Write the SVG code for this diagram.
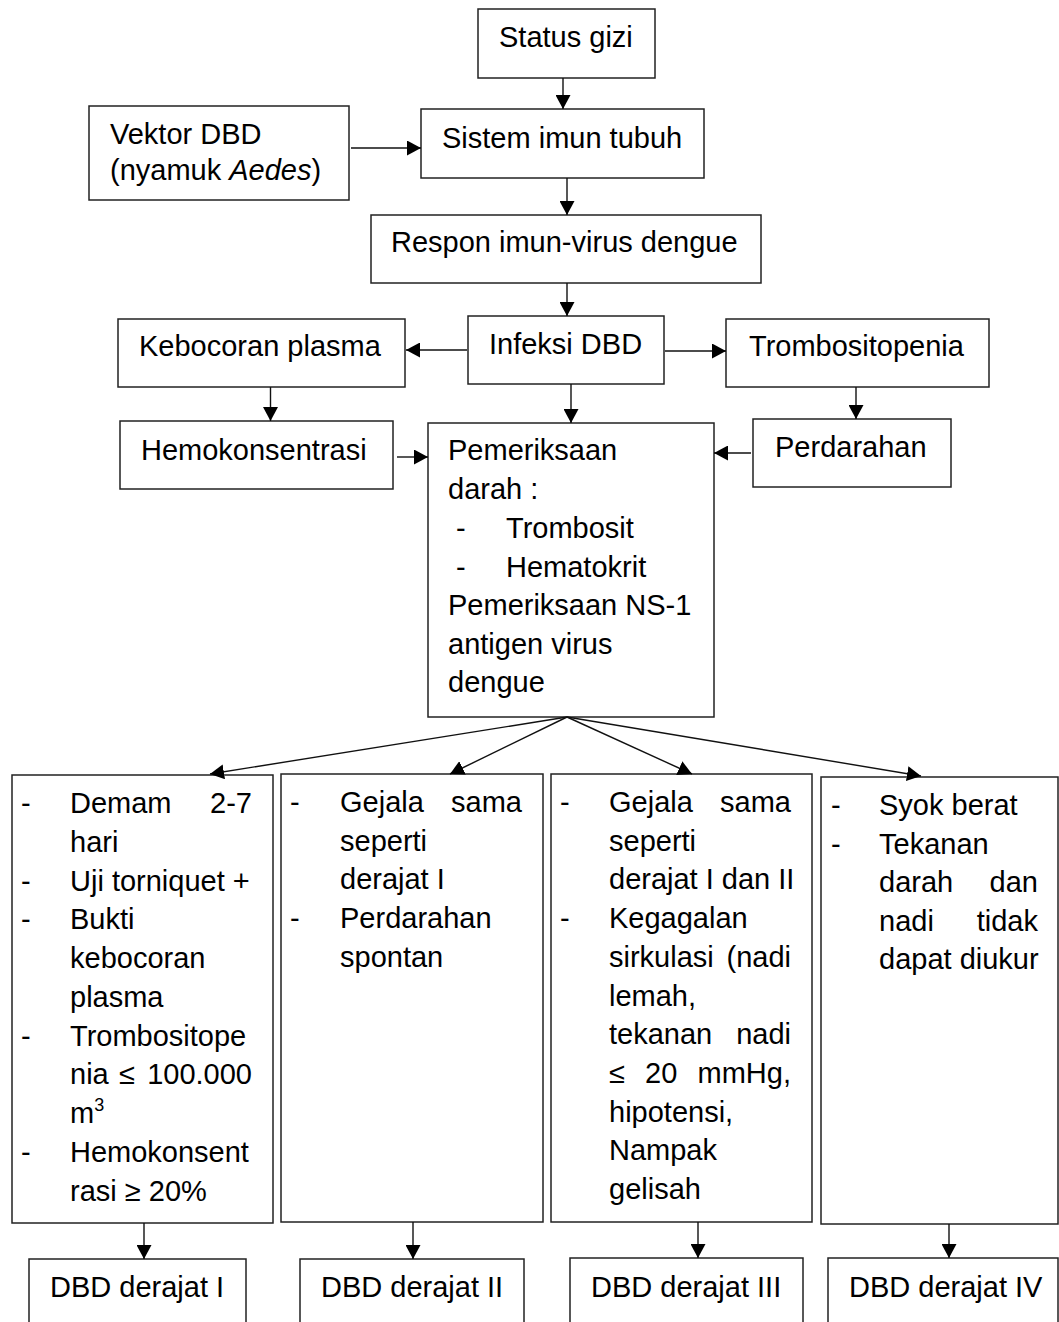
<svg xmlns="http://www.w3.org/2000/svg" width="1059" height="1322" viewBox="0 0 1059 1322">
<style>
.box{fill:#fff;stroke:#222;stroke-width:1.5}
text{font-family:"Liberation Sans",Arial,sans-serif;font-size:29px;fill:#000}
.e{text-anchor:end}
.con line{stroke:#111;stroke-width:1.4;marker-end:url(#ah)}
</style>
<defs>
<marker id="ah" viewBox="0 0 14 15" refX="14" refY="7.5" markerWidth="14" markerHeight="15" markerUnits="userSpaceOnUse" orient="auto">
<path d="M0,0 L14,7.5 L0,15 z" fill="#000"/>
</marker>
</defs>
<rect width="1059" height="1322" fill="#fff"/>

<g id="status-gizi"><rect class="box" x="478" y="9" width="177" height="69"/><text x="499" y="47">Status gizi</text></g>
<g id="vektor"><rect class="box" x="89" y="106" width="260" height="94"/><text x="110" y="144">Vektor DBD</text><text x="110" y="180">(nyamuk <tspan font-style="italic">Aedes</tspan>)</text></g>
<g id="sistem-imun"><rect class="box" x="421" y="109" width="283" height="69"/><text x="442" y="148">Sistem imun tubuh</text></g>
<g id="respon"><rect class="box" x="371" y="215" width="390" height="68"/><text x="391" y="252">Respon imun-virus dengue</text></g>
<g id="infeksi"><rect class="box" x="468" y="316" width="196" height="68"/><text x="489" y="354">Infeksi DBD</text></g>
<g id="kebocoran"><rect class="box" x="118" y="319" width="287" height="68"/><text x="139" y="356">Kebocoran plasma</text></g>
<g id="trombositopenia"><rect class="box" x="726" y="319" width="263" height="68"/><text x="749" y="356">Trombositopenia</text></g>
<g id="hemokonsentrasi"><rect class="box" x="120" y="421" width="273" height="68"/><text x="141" y="460">Hemokonsentrasi</text></g>
<g id="perdarahan"><rect class="box" x="753" y="419" width="198" height="68"/><text x="775" y="457">Perdarahan</text></g>
<g id="pemeriksaan"><rect class="box" x="428" y="423" width="286" height="294"/>
<text x="448" y="460">Pemeriksaan</text>
<text x="448" y="499">darah :</text>
<text x="456" y="538">-</text><text x="506" y="538">Trombosit</text>
<text x="456" y="577">-</text><text x="506" y="577">Hematokrit</text>
<text x="448" y="615">Pemeriksaan NS-1</text>
<text x="448" y="654">antigen virus</text>
<text x="448" y="692">dengue</text>
</g>

<g id="derajat1-kriteria"><rect class="box" x="12" y="775" width="261" height="448"/>
<text x="21" y="813">-</text><text x="70" y="813">Demam</text><text class="e" x="252" y="813">2-7</text>
<text x="70" y="852">hari</text>
<text x="21" y="891">-</text><text x="70" y="891">Uji torniquet +</text>
<text x="21" y="929">-</text><text x="70" y="929">Bukti</text>
<text x="70" y="968">kebocoran</text>
<text x="70" y="1007">plasma</text>
<text x="21" y="1046">-</text><text x="70" y="1046">Trombositope</text>
<text x="70" y="1084">nia</text><text x="119" y="1084">≤</text><text class="e" x="252" y="1084">100.000</text>
<text x="70" y="1123">m<tspan font-size="18" dy="-12">3</tspan></text>
<text x="21" y="1162">-</text><text x="70" y="1162">Hemokonsent</text>
<text x="70" y="1201">rasi ≥ 20%</text>
</g>
<g id="derajat2-kriteria"><rect class="box" x="281" y="774" width="262" height="448"/>
<text x="290" y="812">-</text><text x="340" y="812">Gejala</text><text class="e" x="522" y="812">sama</text>
<text x="340" y="851">seperti</text>
<text x="340" y="889">derajat I</text>
<text x="290" y="928">-</text><text x="340" y="928">Perdarahan</text>
<text x="340" y="967">spontan</text>
</g>
<g id="derajat3-kriteria"><rect class="box" x="551" y="774" width="261" height="448"/>
<text x="560" y="812">-</text><text x="609" y="812">Gejala</text><text class="e" x="791" y="812">sama</text>
<text x="609" y="851">seperti</text>
<text x="609" y="889">derajat I dan II</text>
<text x="560" y="928">-</text><text x="609" y="928">Kegagalan</text>
<text x="609" y="967">sirkulasi</text><text class="e" x="791" y="967">(nadi</text>
<text x="609" y="1006">lemah,</text>
<text x="609" y="1044">tekanan</text><text class="e" x="791" y="1044">nadi</text>
<text x="609" y="1083">≤</text><text x="645" y="1083">20</text><text class="e" x="791" y="1083">mmHg,</text>
<text x="609" y="1122">hipotensi,</text>
<text x="609" y="1160">Nampak</text>
<text x="609" y="1199">gelisah</text>
</g>
<g id="derajat4-kriteria"><rect class="box" x="821" y="777" width="237" height="447"/>
<text x="831" y="815">-</text><text x="879" y="815">Syok berat</text>
<text x="831" y="854">-</text><text x="879" y="854">Tekanan</text>
<text x="879" y="892">darah</text><text class="e" x="1038" y="892">dan</text>
<text x="879" y="931">nadi</text><text class="e" x="1038" y="931">tidak</text>
<text x="879" y="969">dapat diukur</text>
</g>

<g id="dbd1"><rect class="box" x="29" y="1259" width="217" height="90"/><text x="50" y="1297">DBD derajat I</text></g>
<g id="dbd2"><rect class="box" x="300" y="1259" width="224" height="90"/><text x="321" y="1297">DBD derajat II</text></g>
<g id="dbd3"><rect class="box" x="570" y="1258" width="233" height="90"/><text x="591" y="1297">DBD derajat III</text></g>
<g id="dbd4"><rect class="box" x="828" y="1258" width="230" height="90"/><text x="849" y="1297">DBD derajat IV</text></g>

<g id="connectors" class="con">
<line x1="563" y1="78" x2="563" y2="109"/>
<line x1="351" y1="148" x2="421" y2="148"/>
<line x1="567" y1="178" x2="567" y2="215"/>
<line x1="567" y1="283" x2="567" y2="316"/>
<line x1="467" y1="350" x2="406" y2="350"/>
<line x1="665" y1="351" x2="726" y2="351"/>
<line x1="270.5" y1="387" x2="270.5" y2="421"/>
<line x1="571" y1="384" x2="571" y2="423"/>
<line x1="856" y1="387" x2="856" y2="419"/>
<line x1="397" y1="457" x2="428" y2="457"/>
<line x1="751" y1="453" x2="714" y2="453"/>
<line x1="567" y1="717" x2="210" y2="774"/>
<line x1="567" y1="717" x2="450" y2="774"/>
<line x1="567" y1="717" x2="692" y2="774"/>
<line x1="567" y1="717" x2="921" y2="776"/>
<line x1="144" y1="1223" x2="144" y2="1259"/>
<line x1="413" y1="1222" x2="413" y2="1259"/>
<line x1="698" y1="1222" x2="698" y2="1258"/>
<line x1="949" y1="1224" x2="949" y2="1258"/>
</g>
</svg>
